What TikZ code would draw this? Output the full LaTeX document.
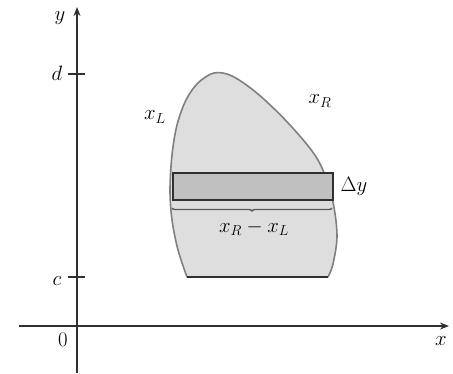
\documentclass[tikz,border=0pt]{standalone}
\usetikzlibrary{arrows.meta,decorations.pathreplacing}
\definecolor{axisc}{HTML}{303030}
\definecolor{regionfill}{HTML}{DEDEDE}
\definecolor{regionline}{HTML}{808080}
\definecolor{stripfill}{HTML}{C0C0C0}
\begin{document}
\begin{tikzpicture}[x=1pt,y=-1pt,
  axis/.style={draw=axisc,line width=2pt},
  lbl/.style={inner sep=0pt,font=\fontsize{21}{24}\selectfont},
  dark/.style={draw=axisc,line width=2pt}]
\useasboundingbox (0,0) rectangle (453,373);
% axes
\coordinate (yb) at (77,373);
\coordinate (yt) at (77,7);
\coordinate (xl) at (19,326);
\coordinate (xr) at (449,326);
\draw[axis,-{Stealth[length=9pt,width=7pt]}] (yb) -- (yt);
\draw[axis,-{Stealth[length=9pt,width=7pt]}] (xl) -- (xr);
% ticks
\coordinate (dL) at (68,74); \coordinate (dR) at (85,74);
\coordinate (cL) at (68,277); \coordinate (cR) at (85,277);
\draw[axis] (dL) -- (dR);
\draw[axis] (cL) -- (cR);
% region
\def\regionpts{(187,277) (178,250) (172,220) (170,190) (172,155) (177,125) (186,100) (198,83) (214,73) (232,76) (258,94) (290,125) (318,160) (332,198) (337,235) (333,264) (328,277)}
\fill[regionfill] plot[smooth,tension=0.55] coordinates {\regionpts} -- cycle;
\draw[regionline,line width=1.6pt] plot[smooth,tension=0.55] coordinates {\regionpts};
\coordinate (bL) at (187,277); \coordinate (bR) at (328,277);
\draw[dark] (bL) -- (bR);
% strip
\node[draw=axisc,fill=stripfill,line width=2pt,minimum width=160pt,minimum height=27pt,inner sep=0pt,anchor=north west] (strip) at (172,172) {};
% brace
\coordinate (brR) at (332,208); \coordinate (brL) at (172,208);
\draw[draw=axisc!80,line width=1.4pt,decorate,decoration={brace,amplitude=3pt}] (brR) -- (brL);
% labels
\node[lbl] (ylab) at (60,18) {$y$};
\node[lbl] (dlab) at (57,73) {$d$};
\node[lbl] (clab) at (57,281) {$c$};
\node[lbl] (olab) at (63,340) {$0$};
\node[lbl] (xlab) at (441,341) {$x$};
\node[lbl] (xL) at (155,117) {$x_L$};
\node[lbl] (xR) at (320,101) {$x_R$};
\node[lbl] (dy) at (354,186) {$\Delta y$};
\node[lbl] (diff) at (254,228) {$x_R - x_L$};
\end{tikzpicture}
\end{document}
